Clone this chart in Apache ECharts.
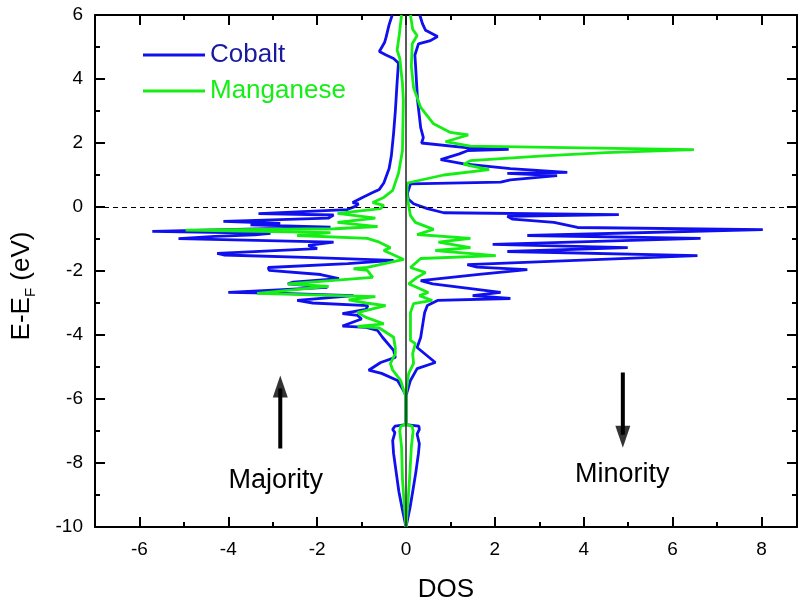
<!DOCTYPE html>
<html>
<head>
<meta charset="utf-8">
<script src="https://cdn.jsdelivr.net/npm/echarts@6/dist/echarts.min.js"></script>
<style>html,body{margin:0;padding:0;background:#fff}#c{width:798px;height:605px}</style>
</head>
<body>
<div id="c"></div>
<script>
// ---- data: [DOS, E-E_F] pairs, ordered from top (E=6) to bottom (E=-10)
var cobaltMajority = [[-0.31,6.0],[-0.38,5.7],[-0.45,5.3],[-0.48,5.15],[-0.60,4.86],[-0.45,4.75],[-0.28,4.64],[-0.17,4.5],[-0.2,3.9],[-0.24,3.0],[-0.28,2.3],[-0.33,1.6],[-0.38,1.2],[-0.5,0.75],[-0.6,0.55],[-0.75,0.45],[-0.98,0.30],[-1.2,0.14],[-1.07,0.1],[-1.14,0.02],[-1.32,-0.08],[-3.32,-0.21],[-1.63,-0.25],[-1.75,-0.35],[-4.11,-0.45],[-2.83,-0.51],[-3.5,-0.56],[-1.7,-0.63],[-5.71,-0.76],[-3.05,-0.82],[-3.4,-0.87],[-4.3,-0.92],[-5.12,-0.99],[-1.63,-1.1],[-2.2,-1.2],[-2.0,-1.3],[-4.25,-1.45],[-4.1,-1.5],[-2.08,-1.58],[-0.28,-1.67],[-1.31,-1.77],[-3.1,-1.89],[-3.08,-1.98],[-1.92,-2.11],[-1.51,-2.24],[-2.54,-2.35],[-2.66,-2.4],[-1.77,-2.51],[-4.0,-2.67],[-2.8,-2.7],[-1.18,-2.77],[-2.45,-2.92],[-2.1,-3.0],[-0.86,-3.08],[-0.9,-3.2],[-1.43,-3.33],[-1.09,-3.39],[-1.0,-3.5],[-1.43,-3.72],[-0.9,-3.76],[-0.64,-3.86],[-0.53,-4.07],[-0.28,-4.48],[-0.24,-4.7],[-0.57,-4.86],[-0.84,-5.1],[-0.55,-5.2],[-0.19,-5.42],[-0.06,-5.73],[0,-5.9],[0,-6.8],[-0.25,-6.85],[-0.3,-6.95],[-0.25,-7.05],[-0.3,-7.3],[-0.28,-7.7],[-0.22,-8.3],[-0.16,-8.9],[-0.09,-9.4],[0,-10]];
var cobaltMinority = [[0.31,6.0],[0.37,5.73],[0.44,5.52],[0.71,5.33],[0.55,5.2],[0.28,5.1],[0.2,4.75],[0.22,4.3],[0.26,3.33],[0.33,2.48],[0.39,2.17],[0.35,2.0],[1.4,1.85],[2.31,1.8],[1.38,1.76],[1.2,1.66],[0.78,1.48],[1.3,1.35],[2.35,1.2],[3.63,1.08],[2.28,1.05],[3.4,0.98],[2.35,0.85],[2.13,0.78],[0.1,0.72],[0.03,0.42],[0.05,0.25],[0.17,0.1],[0.48,-0.05],[0.85,-0.18],[4.79,-0.24],[2.28,-0.29],[2.4,-0.38],[3.33,-0.48],[3.86,-0.64],[8.03,-0.71],[2.73,-0.89],[6.63,-0.98],[1.95,-1.17],[4.99,-1.27],[2.28,-1.39],[6.56,-1.52],[1.38,-1.8],[1.6,-1.88],[2.73,-1.96],[1.7,-2.1],[0.33,-2.3],[0.6,-2.4],[2.13,-2.67],[1.5,-2.77],[2.35,-2.86],[0.71,-2.92],[0.48,-3.08],[0.42,-3.3],[0.39,-3.55],[0.33,-4.08],[0.25,-4.39],[0.66,-4.86],[0.25,-5.05],[0.1,-5.42],[0.02,-5.8],[0,-5.9],[0,-6.8],[0.29,-6.85],[0.3,-6.95],[0.25,-7.1],[0.3,-7.4],[0.28,-7.7],[0.22,-8.3],[0.15,-8.9],[0.09,-9.4],[0,-10]];
var manganeseMajority = [[-0.1,6.0],[-0.15,5.4],[-0.2,4.9],[-0.14,4.64],[-0.08,3.86],[-0.06,3.33],[-0.08,1.76],[-0.17,1.05],[-0.3,0.52],[-0.5,0.3],[-0.75,0.14],[-0.5,0.05],[-0.57,-0.05],[-1.54,-0.2],[-0.69,-0.35],[-1.54,-0.48],[-0.64,-0.61],[-1.6,-0.68],[-4.96,-0.72],[-1.7,-0.8],[-2.45,-0.89],[-2.49,-0.95],[-0.87,-0.98],[-0.6,-1.1],[-0.35,-1.27],[-0.5,-1.36],[-0.05,-1.64],[-0.87,-1.89],[-1.18,-1.93],[-0.87,-1.98],[-0.75,-2.2],[-2.66,-2.4],[-1.74,-2.48],[-3.35,-2.7],[-0.69,-2.8],[-1.29,-2.9],[-0.9,-3.0],[-0.46,-3.08],[-1.09,-3.3],[-0.9,-3.45],[-0.5,-3.65],[-1.09,-3.73],[-0.6,-3.78],[-0.28,-4.07],[-0.24,-4.4],[-0.24,-4.58],[-0.35,-4.89],[-0.3,-5.1],[-0.12,-5.42],[-0.03,-5.83],[0,-5.9],[0,-6.8],[-0.12,-6.85],[-0.14,-7.0],[-0.1,-7.5],[-0.08,-8.5],[-0.04,-9.3],[0,-10]];
var manganeseMinority = [[0.1,6.0],[0.15,5.55],[0.25,5.36],[0.14,5.1],[0.12,4.4],[0.17,3.73],[0.33,3.11],[0.62,2.6],[1.0,2.33],[1.4,2.25],[0.89,2.04],[1.45,1.9],[6.48,1.79],[4.5,1.7],[3.1,1.6],[1.45,1.45],[1.3,1.33],[1.87,1.17],[0.85,1.0],[0.03,0.75],[0.02,0.4],[0.06,0.05],[0.1,-0.27],[0.21,-0.48],[0.62,-0.7],[0.25,-0.86],[1.45,-0.98],[0.73,-1.1],[1.45,-1.27],[0.66,-1.36],[2.02,-1.52],[0.33,-1.61],[0.1,-1.89],[0.44,-2.05],[0.25,-2.2],[0.06,-2.4],[0.5,-2.67],[0.3,-2.77],[0.59,-2.92],[0.17,-3.02],[0.1,-3.3],[0.1,-4.17],[0.21,-4.27],[0.15,-4.58],[0.17,-4.89],[0.06,-5.2],[0,-5.83],[0,-6.8],[0.14,-6.85],[0.16,-7.0],[0.12,-7.5],[0.08,-8.5],[0.04,-9.3],[0,-10]];

// tick labels
var xMajorTicks = [-6,-4,-2,0,2,4,6,8];
var xMinorTicks = [-5,-3,-1,1,3,5,7];

// annotations
var annotationTexts = ['Majority','Minority'];
var annotationPos = [[-2.92,-8.55],[4.88,-8.38]];
var arrowX = [-2.83, 4.88];
var arrowTail = [-7.55, -5.17];
var arrowTip = [-5.27, -7.52];

var BLUE = '#1010ee', GREEN = '#14ee14', FONT = 'Liberation Sans, Arial, sans-serif';

var chart = echarts.init(document.getElementById('c'), null, {renderer:'canvas'});

function xAx(pos, ticks, len, showLine, showLabel){
  return {
    type:'value', position:pos, min:-7, max:8.8,
    axisLine:{show:showLine, onZero:false, lineStyle:{color:'#000', width:2}},
    axisTick:{show:true, inside:true, length:len, customValues:ticks, lineStyle:{color:'#000', width:2}},
    axisLabel:{show:showLabel, customValues:ticks, fontSize:19, color:'#000', fontFamily:FONT, margin:13},
    splitLine:{show:false}
  };
}
function yAx(pos, showLabel){
  return {
    type:'value', position:pos, min:-10, max:6, interval:2,
    axisLine:{show:true, onZero:false, lineStyle:{color:'#000', width:2}},
    axisTick:{show:true, inside:true, length:10, lineStyle:{color:'#000', width:2}},
    minorTick:{show:true, splitNumber:2, length:5, lineStyle:{color:'#000', width:2}},
    axisLabel:{show:showLabel, fontSize:19, color:'#000', fontFamily:FONT, margin:12},
    splitLine:{show:false}
  };
}

var xAxes = [xAx('bottom', xMajorTicks, 10, true, true), xAx('bottom', xMinorTicks, 5, false, false),
             xAx('top', xMajorTicks, 10, true, false), xAx('top', xMinorTicks, 5, false, false)];
xAxes[0].name = 'DOS';
xAxes[0].nameLocation = 'middle';
xAxes[0].nameGap = 50;
xAxes[0].nameTextStyle = {fontSize:26, color:'#000', fontFamily:FONT};

var yAxes = [yAx('left', true), yAx('right', false)];
yAxes[0].name = '{a|E-E}{b|F}{a| (eV)}';
yAxes[0].nameLocation = 'middle';
yAxes[0].nameGap = 57;
yAxes[0].nameRotate = 90;
yAxes[0].nameTextStyle = {color:'#000', fontFamily:FONT, padding:[0, 30, 0, 0], rich:{
  a:{fontSize:26, lineHeight:32, color:'#000', fontFamily:FONT},
  b:{fontSize:15, lineHeight:15, verticalAlign:'bottom', color:'#000', fontFamily:FONT}
}};

function lineSeries(name, data, color){
  return {type:'line', name:name, data:data, xAxisIndex:0, yAxisIndex:0, showSymbol:false, symbol:'none',
    lineStyle:{color:color, width:2.8}, itemStyle:{color:color}, smooth:false, z:3};
}

var arrowShaft = [];
var arrowHeads = [];
for (var i=0;i<arrowX.length;i++){
  arrowShaft.push([arrowX[i], arrowTail[i]]);
  arrowShaft.push([arrowX[i], arrowTip[i] + (arrowTip[i]>arrowTail[i] ? -0.4 : 0.4)]);
  arrowShaft.push('-');
  arrowHeads.push({value:[arrowX[i], arrowTip[i] + (arrowTip[i]>arrowTail[i] ? -0.34 : 0.34)],
    symbolRotate: arrowTip[i]>arrowTail[i] ? 0 : 180});
}

var option = {
  animation:false,
  backgroundColor:'#fff',
  grid:{left:95, right:1, top:15, bottom:78, containLabel:false, outerBoundsMode:'none'},
  xAxis:xAxes,
  yAxis:yAxes,
  legend:{
    orient:'vertical', left:138, top:35, itemWidth:62, itemHeight:3, itemGap:6, icon:'rect',
    textStyle:{fontSize:26, fontFamily:FONT, lineHeight:30},
    data:[{name:'Cobalt', textStyle:{color:'#1a1aa0'}}, {name:'Manganese', textStyle:{color:GREEN}}]
  },
  series:[
    {type:'line', name:'guides', data:[], xAxisIndex:0, yAxisIndex:0, silent:true,
      markLine:{silent:true, symbol:['none','none'], label:{show:false}, animation:false,
        data:[{yAxis:0, lineStyle:{type:[5,4], color:'#000', width:1}},
              {xAxis:0, lineStyle:{type:'solid', color:'#222', width:1.5}}]}},
    lineSeries('Cobalt', cobaltMajority, BLUE),
    lineSeries('Cobalt', cobaltMinority, BLUE),
    lineSeries('Manganese', manganeseMajority, GREEN),
    lineSeries('Manganese', manganeseMinority, GREEN),
    {type:'line', name:'arrows', data:arrowShaft, xAxisIndex:0, yAxisIndex:0, showSymbol:false, symbol:'none',
      connectNulls:false, lineStyle:{color:'#000', width:4}, silent:true},
    {type:'scatter', name:'arrowheads', data:arrowHeads, symbol:'triangle', symbolSize:[15,22],
      itemStyle:{color:'#000'}, silent:true},
    {type:'scatter', name:'labels', silent:true, symbolSize:1, itemStyle:{opacity:0},
      data:annotationPos.map(function(p,i){return {value:p, name:annotationTexts[i]};}),
      label:{show:true, position:[0,0], align:'center', verticalAlign:'middle', formatter:'{b}',
        fontSize:27, color:'#000', opacity:1, fontFamily:FONT}}
  ]
};
chart.setOption(option);
</script>
</body>
</html>
